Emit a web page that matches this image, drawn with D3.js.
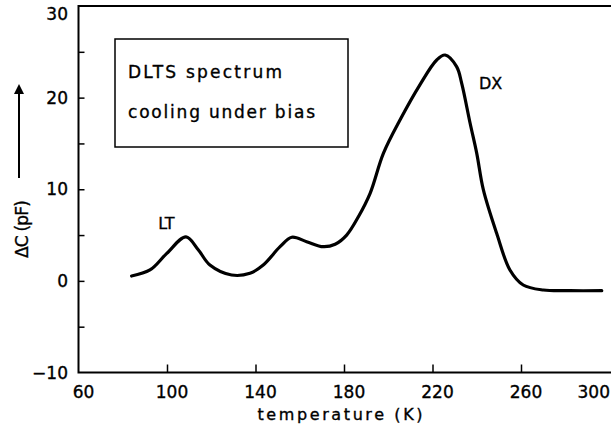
<!DOCTYPE html>
<html>
<head>
<meta charset="utf-8">
<script src="https://cdn.jsdelivr.net/npm/d3@7"></script>
<style>
  body { margin: 0; background: #fff; }
  svg { display: block; font-family: "DejaVu Sans", sans-serif; }
  text { stroke: #000; stroke-width: 0.35px; }
</style>
</head>
<body>
<svg width="611" height="435"></svg>
<script>
// data
const temps = [84, 92.3, 99.9, 108.6, 114.2, 119.4, 129.2, 137.5, 143.5, 151.1, 156.4, 163.1, 170.6, 176, 181.2,
   186.5, 191.8, 197.8, 205.3, 214.3, 221.9, 225.7, 230.9, 233.2, 237, 240, 243, 249, 255, 261, 270.1, 282.2, 296.5]
const dC = [0.53, 1.19, 3.0, 4.8, 3.37, 1.73, 0.64, 0.83, 1.73, 3.73, 4.76, 4.28, 3.73, 4.0, 5.0,
   7.0, 9.56, 13.92, 17.56, 21.4, 24.11, 24.65, 23.38, 21.56, 17.2, 13.92, 9.92, 5.19, 1.19, -0.45, -1.0, -1.07, -1.07]
const xTicks = [60, 100, 140, 180, 220, 260, 300]
const yTicks = [-10, 0, 10, 20, 30]
const yMinor = [-5, 0, 5, 10, 15, 20, 25]
const peakLabels = [{text: 'LT', t: 96, v: 5.7}, {text: 'DX', t: 241, v: 20.9}]

const svg = d3.select('svg')

// scales
const x = d3.scaleLinear().domain([60, 300]).range([78.5, 609.5])
const y = d3.scaleLinear().domain([-10, 30]).range([372.5, 6])

// frame (left, top, bottom)
svg.append('path')
   .attr('d', `M611,${y(30)}H${x(60)}V${y(-10)}H611`)
   .attr('fill', 'none')
   .attr('stroke', '#000')
   .attr('stroke-width', 2)

// inward ticks
const yAxis = d3.axisRight(y).tickValues(yMinor).tickSize(6).tickFormat('')
svg.append('g')
   .attr('transform', `translate(${x(60)},0)`)
   .call(yAxis)
   .call(g => g.select('.domain').remove())
   .selectAll('line').attr('stroke-width', 1.5)

const xAxis = d3.axisTop(x).tickValues(xTicks.slice(1, -1)).tickSize(8).tickFormat('')
svg.append('g')
   .attr('transform', `translate(0,${y(-10)})`)
   .call(xAxis)
   .call(g => g.select('.domain').remove())
   .selectAll('line').attr('stroke-width', 1.5)

// tick labels
svg.selectAll('.xlab')
   .data(xTicks)
   .enter().append('text')
   .attr('x', d => d === 300 ? 610 : x(d) + 5)
   .attr('y', 398)
   .attr('text-anchor', d => d === 300 ? 'end' : 'middle')
   .attr('font-size', 17)
   .text(d => d)

svg.selectAll('.ylab')
   .data(yTicks)
   .enter().append('text')
   .attr('x', 68)
   .attr('y', d => d === 30 ? y(d) + 8 : y(d))
   .attr('dy', '0.36em')
   .attr('text-anchor', 'end')
   .attr('font-size', 17)
   .text(d => d === -10 ? '\u221210' : d)

// axis titles
svg.append('text')
   .attr('x', 340)
   .attr('y', 420)
   .attr('text-anchor', 'middle')
   .attr('font-size', 16)
   .attr('textLength', 165)
   .attr('lengthAdjust', 'spacing')
   .text('temperature (K)')

svg.append('text')
   .attr('transform', 'translate(28,229) rotate(-90)')
   .attr('text-anchor', 'middle')
   .attr('font-size', 17)
   .attr('textLength', 58)
   .attr('lengthAdjust', 'spacing')
   .text('\u0394C (pF)')

svg.append('defs').append('marker')
   .attr('id', 'arr')
   .attr('viewBox', '0 0 10 10')
   .attr('refX', 8).attr('refY', 5)
   .attr('markerWidth', 5).attr('markerHeight', 6)
   .attr('orient', 'auto')
   .append('path').attr('d', 'M0,0L10,5L0,10Z')

svg.append('line')
   .attr('x1', 19).attr('x2', 19)
   .attr('y1', 178).attr('y2', 86)
   .attr('stroke', '#000')
   .attr('stroke-width', 2)
   .attr('marker-end', 'url(#arr)')

// legend box
svg.append('rect')
   .attr('x', 115).attr('y', 39)
   .attr('width', 233).attr('height', 108)
   .attr('fill', 'none')
   .attr('stroke', '#000')
   .attr('stroke-width', 1.5)

svg.append('text')
   .attr('x', 128).attr('y', 78)
   .attr('font-size', 17)
   .attr('textLength', 154)
   .attr('lengthAdjust', 'spacing')
   .text('DLTS spectrum')

svg.append('text')
   .attr('x', 128).attr('y', 118)
   .attr('font-size', 17)
   .attr('textLength', 187)
   .attr('lengthAdjust', 'spacing')
   .text('cooling under bias')

// the spectrum
const line = d3.line()
   .x((d, i) => x(temps[i]))
   .y(d => y(d))
   .curve(d3.curveCatmullRom.alpha(0.5))

svg.append('path')
   .datum(dC)
   .attr('d', line)
   .attr('fill', 'none')
   .attr('stroke', '#000')
   .attr('stroke-width', 3.2)
   .attr('stroke-linecap', 'round')
   .attr('stroke-linejoin', 'round')

svg.selectAll('.peak')
   .data(peakLabels)
   .enter().append('text')
   .attr('x', d => x(d.t))
   .attr('y', d => y(d.v))
   .attr('font-size', 16)
   .text(d => d.text)
</script>
</body>
</html>
